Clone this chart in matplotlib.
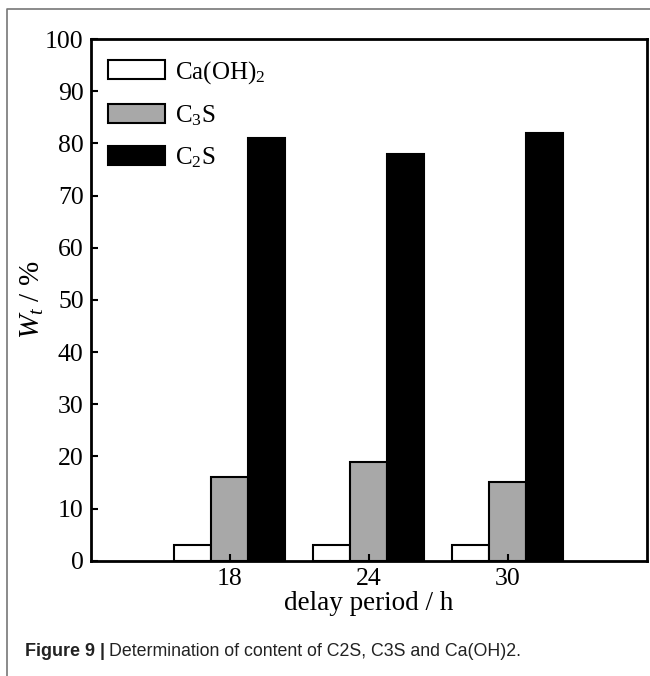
import matplotlib
matplotlib.use('Agg')
import matplotlib.pyplot as plt
import numpy as np
from matplotlib.lines import Line2D

plt.rcParams['font.family'] = 'Liberation Serif'
plt.rcParams['mathtext.fontset'] = 'custom'
plt.rcParams['mathtext.rm'] = 'Liberation Serif'
plt.rcParams['mathtext.it'] = 'Liberation Serif:italic'

# data
delay_hours = [18, 24, 30]
ca_oh2 = [3, 3, 3]
c3s = [16, 19, 15]
c2s = [81, 78, 82]
series_labels = ['Ca(OH)$_2$', 'C$_3$S', 'C$_2$S']
series_colors = ['white', '#a8a8a8', 'black']

fig = plt.figure(figsize=(6.5, 6.76), dpi=100)
ax = fig.add_axes([0.1395, 0.1706, 0.8555, 0.7717])

x = np.array(delay_hours, dtype=float)
width = 1.6
for off, vals, lab, col in zip([-width, 0, width], [ca_oh2, c3s, c2s], series_labels, series_colors):
    ax.bar(x + off, vals, width, color=col, edgecolor='black', linewidth=1.5, label=lab)

ax.set_xlim(12, 36)
ax.set_ylim(0, 100)
ax.set_xticks(delay_hours)
ax.set_yticks(range(0, 101, 10))
ax.tick_params(direction='in', length=5, width=1.5, labelsize=18.5, pad=5)
for s in ax.spines.values():
    s.set_linewidth(2)

ax.set_xlabel('delay period / h', fontsize=19.5, labelpad=1)
ax.set_ylabel('$W_t$ / %', fontsize=21, labelpad=-1)

leg = ax.legend(loc='upper left', frameon=False, fontsize=18, handlelength=2.3,
                handleheight=0.8, labelspacing=0.7, handletextpad=0.4,
                borderaxespad=0.4, bbox_to_anchor=(-0.005, 1.0))

# outer panel border (left and top edges)
fig.add_artist(Line2D([7/650, 7/650, 1.01], [0, 1 - 9/676, 1 - 9/676],
                      transform=fig.transFigure, color='#777777', linewidth=1.2))

t1 = fig.text(25/650, 1 - 652/676, 'Figure 9 |', fontsize=13, fontweight='bold',
              family='Liberation Sans', color='#222222', va='center')
fig.canvas.draw()
bb = t1.get_window_extent()
fig.text(bb.x1 / 650 + 4/650, 1 - 652/676, 'Determination of content of C2S, C3S and Ca(OH)2.',
         fontsize=12.8, family='Liberation Sans', color='#222222', va='center')

fig.savefig('out.png', dpi=100)
